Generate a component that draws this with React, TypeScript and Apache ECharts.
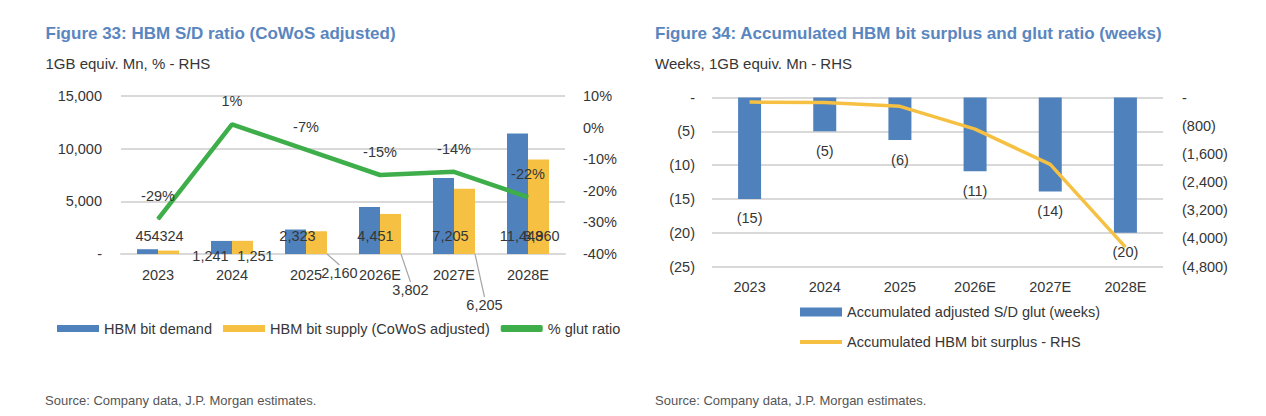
import React, { useEffect, useRef } from "react";
import * as echarts from "echarts";

// ---- data ----
const years = ["2023", "2024", "2025", "2026E", "2027E", "2028E"];
const hbmDemand = [454, 1241, 2323, 4451, 7205, 11448];
const hbmSupply = [324, 1251, 2160, 3802, 6205, 8960];
const glutRatio = [-29, 1, -7, -15, -14, -22];

const glutWeeks = [-15, -5, -6.3, -10.9, -13.9, -20];
const bitSurplus = [-130, -140, -250, -900, -1900, -4250];

const leftTitle = "Figure 33: HBM S/D ratio (CoWoS adjusted)";
const leftSubtitle = "1GB equiv. Mn, % - RHS";
const rightTitle = "Figure 34: Accumulated HBM bit surplus and glut ratio (weeks)";
const rightSubtitle = "Weeks, 1GB equiv. Mn - RHS";
const sourceText = "Source: Company data, J.P. Morgan estimates.";

// ---- styling (label shifts mimic the original's hand-placed labels) ----
const demandLabelShift = [[0, 0], [-11, 20], [2, 0], [6, 0], [7, 0], [4, 0]];
const supplyLabelShift = [[3, 0], [13, 20], [23, 37], [20, 54], [20, 69], [3, 0]];
const supplyLeaderIdx = [2, 3, 4];

const FONT = '"Liberation Sans", Arial, Helvetica, sans-serif';
const TXT = "#363636";
const GRIDC = "#D9D9D9";
const BLUE = "#4F81BD";
const YELLOW = "#F6C142";
const GREEN = "#3DAE49";
const TITLEC = "#5A86C0";
const FS = 14.5;

const fmtThousands = (v: number) => Math.round(v).toLocaleString("en-US");

export default function App() {
  const ref = useRef<HTMLDivElement>(null);

  useEffect(() => {
    document.body.style.margin = "0";
    if (!ref.current) return;
    const chart = echarts.init(ref.current, undefined, { renderer: "svg" });

    const lineIcon = "path://M0,0M0,2.5L42,2.5L42,6.5L0,6.5ZM42,9";

    const option: any = {
      animation: false,
      textStyle: { fontFamily: FONT, color: TXT },
      graphic: [
        { type: "text", x: 45.5, y: 33, style: { text: leftTitle, font: `bold 17px ${FONT}`, fill: TITLEC, verticalAlign: "middle" } },
        { type: "text", x: 45.5, y: 63, style: { text: leftSubtitle, font: `15px ${FONT}`, fill: TXT, verticalAlign: "middle" } },
        { type: "text", x: 45, y: 400, style: { text: sourceText, font: `13px ${FONT}`, fill: "#555", verticalAlign: "middle" } },
        { type: "text", x: 655, y: 33, style: { text: rightTitle, font: `bold 17px ${FONT}`, fill: TITLEC, verticalAlign: "middle" } },
        { type: "text", x: 655, y: 63, style: { text: rightSubtitle, font: `15px ${FONT}`, fill: TXT, verticalAlign: "middle" } },
        { type: "text", x: 655, y: 400, style: { text: sourceText, font: `13px ${FONT}`, fill: "#555", verticalAlign: "middle" } },
      ],
      legend: [
        {
          left: 57,
          top: 321,
          padding: 0,
          itemWidth: 42,
          itemHeight: 7,
          itemGap: 11,
          textStyle: { color: TXT, fontSize: FS, fontFamily: FONT },
          data: [
            { name: "HBM bit demand", icon: "rect" },
            { name: "HBM bit supply (CoWoS adjusted)", icon: "rect" },
            { name: "% glut ratio", icon: "roundRect" },
          ],
        },
        {
          orient: "vertical",
          left: 800,
          top: 304.5,
          padding: 0,
          itemWidth: 42,
          itemHeight: 9,
          itemGap: 15,
          textStyle: { color: TXT, fontSize: FS, fontFamily: FONT },
          data: [
            { name: "Accumulated adjusted S/D glut (weeks)", icon: "rect" },
            { name: "Accumulated HBM bit surplus - RHS", icon: lineIcon },
          ],
        },
      ],
      grid: [
        { left: 121, top: 96, width: 444, height: 158 },
        { left: 712, top: 97.5, width: 451, height: 169 },
      ],
      xAxis: [
        {
          type: "category",
          gridIndex: 0,
          data: years,
          axisTick: { show: false },
          axisLine: { lineStyle: { color: GRIDC, width: 2 } },
          axisLabel: { color: TXT, fontSize: FS, fontFamily: FONT, margin: 13 },
        },
        {
          type: "category",
          gridIndex: 1,
          data: years,
          axisTick: { show: false },
          axisLine: { show: false, onZero: false },
          axisLabel: { color: TXT, fontSize: FS, fontFamily: FONT, margin: 13 },
        },
      ],
      yAxis: [
        {
          type: "value",
          gridIndex: 0,
          min: 0,
          max: 15000,
          interval: 5000,
          axisLine: { show: false },
          axisTick: { show: false },
          splitLine: { lineStyle: { color: GRIDC, width: 2 } },
          axisLabel: {
            color: TXT,
            fontSize: FS,
            fontFamily: FONT,
            margin: 19,
            formatter: (v: number) => (v === 0 ? "-" : fmtThousands(v)),
          },
        },
        {
          type: "value",
          gridIndex: 0,
          position: "right",
          min: -40,
          max: 10,
          interval: 10,
          axisLine: { show: false },
          axisTick: { show: false },
          splitLine: { show: false },
          axisLabel: { color: TXT, fontSize: FS, fontFamily: FONT, margin: 18, formatter: (v: number) => `${v}%` },
        },
        {
          type: "value",
          gridIndex: 1,
          min: -25,
          max: 0,
          interval: 5,
          axisLine: { show: false },
          axisTick: { show: false },
          splitLine: { lineStyle: { color: GRIDC, width: 2 } },
          axisLabel: {
            color: TXT,
            fontSize: FS,
            fontFamily: FONT,
            margin: 17,
            formatter: (v: number) => (v === 0 ? "-" : `(${-v})`),
          },
        },
        {
          type: "value",
          gridIndex: 1,
          position: "right",
          min: -4800,
          max: 0,
          interval: 800,
          axisLine: { show: false },
          axisTick: { show: false },
          splitLine: { show: false },
          axisLabel: {
            color: TXT,
            fontSize: FS,
            fontFamily: FONT,
            margin: 19,
            formatter: (v: number) => (v === 0 ? "-" : `(${fmtThousands(-v)})`),
          },
        },
      ],
      series: [
        {
          type: "bar",
          name: "HBM bit demand",
          xAxisIndex: 0,
          yAxisIndex: 0,
          data: hbmDemand,
          barWidth: 21,
          barGap: "0%",
          itemStyle: { color: BLUE },
          label: {
            show: true,
            position: "insideBottom",
            distance: 11,
            color: TXT,
            fontSize: FS,
            fontFamily: FONT,
            formatter: (p: any) => fmtThousands(p.value),
          },
          labelLayout: (p: any) => ({ dx: demandLabelShift[p.dataIndex][0], dy: demandLabelShift[p.dataIndex][1] }),
        },
        {
          type: "bar",
          name: "HBM bit supply (CoWoS adjusted)",
          xAxisIndex: 0,
          yAxisIndex: 0,
          data: hbmSupply.map((v, i) => ({ value: v, labelLine: { show: supplyLeaderIdx.includes(i) } })),
          barWidth: 21,
          barGap: "0%",
          itemStyle: { color: YELLOW },
          label: {
            show: true,
            position: "insideBottom",
            distance: 11,
            color: TXT,
            fontSize: FS,
            fontFamily: FONT,
            formatter: (p: any) => fmtThousands(p.value),
          },
          labelLine: { show: false, lineStyle: { color: "#A6A6A6", width: 1.2 } },
          labelLayout: (p: any) => ({ dx: supplyLabelShift[p.dataIndex][0], dy: supplyLabelShift[p.dataIndex][1] }),
        },
        {
          type: "line",
          name: "% glut ratio",
          xAxisIndex: 0,
          yAxisIndex: 1,
          data: glutRatio,
          symbol: "circle",
          symbolSize: 1,
          showSymbol: true,
          itemStyle: { color: GREEN },
          lineStyle: { color: GREEN, width: 4.5 },
          label: {
            show: true,
            position: "top",
            distance: 15,
            color: TXT,
            fontSize: FS,
            fontFamily: FONT,
            formatter: (p: any) => `${p.value}%`,
          },
          z: 3,
        },
        {
          type: "bar",
          name: "Accumulated adjusted S/D glut (weeks)",
          xAxisIndex: 1,
          yAxisIndex: 2,
          data: glutWeeks,
          barWidth: 23,
          itemStyle: { color: BLUE },
          label: {
            show: true,
            position: "bottom",
            distance: 12,
            color: TXT,
            fontSize: FS,
            fontFamily: FONT,
            formatter: (p: any) => `(${Math.round(-p.value)})`,
          },
        },
        {
          type: "line",
          name: "Accumulated HBM bit surplus - RHS",
          xAxisIndex: 1,
          yAxisIndex: 3,
          data: bitSurplus,
          symbol: "none",
          itemStyle: { color: YELLOW },
          lineStyle: { color: YELLOW, width: 3.5 },
          z: 3,
        },
      ],
    };

    chart.setOption(option);
    return () => chart.dispose();
  }, []);

  return <div ref={ref} style={{ width: 1266, height: 416 }} />;
}
